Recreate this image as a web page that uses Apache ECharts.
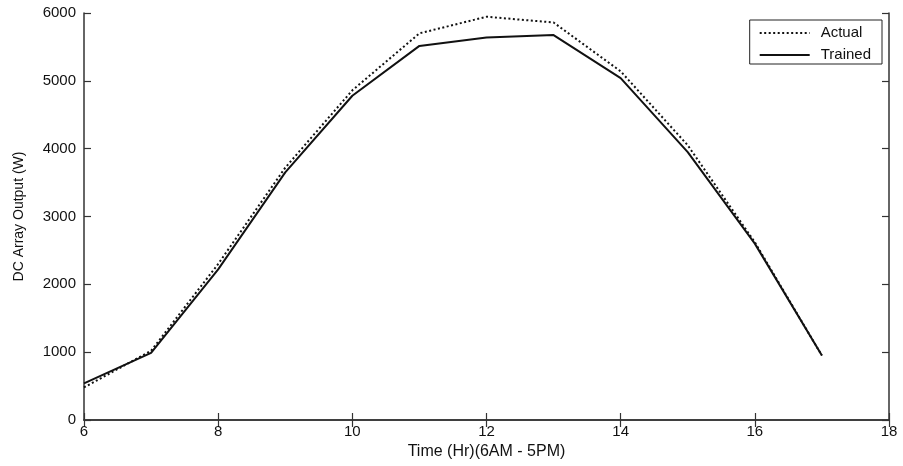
<!DOCTYPE html>
<html><head><meta charset="utf-8">
<script src="https://cdn.jsdelivr.net/npm/echarts@6/dist/echarts.min.js"></script>
<style>html,body{margin:0;padding:0;background:#fff}#c{width:903px;height:466px}</style>
</head><body><div id="c"></div>
<script>
const hours = [6, 7, 8, 9, 10, 11, 12, 13, 14, 15, 16, 17];
const actual = [480, 1020, 2300, 3720, 4860, 5700, 5945, 5860, 5140, 4050, 2620, 950];
const trained = [540, 990, 2220, 3650, 4780, 5515, 5640, 5675, 5040, 3950, 2600, 950];
const seriesNames = ['Actual', 'Trained'];

const chart = echarts.init(document.getElementById('c'));
const font = 'Liberation Sans, Arial, sans-serif';
const axisLine = {show: true, lineStyle: {color: '#333', width: 1.5}};
const tick = {inside: true, length: 7, lineStyle: {color: '#333', width: 1.2}};
chart.setOption({
  animation: false,
  backgroundColor: '#fff',
  grid: {left: 84, right: 14, top: 13, bottom: 46, containLabel: false},
  legend: {
    right: 21, top: 20, orient: 'vertical', itemGap: 4,
    backgroundColor: '#fff', borderColor: '#222', borderWidth: 1, borderRadius: 0,
    padding: [4, 11, 0, 9], itemWidth: 50, itemHeight: 14,
    itemStyle: {opacity: 0},
    textStyle: {fontFamily: font, fontSize: 15, color: '#111', lineHeight: 18, padding: [0, 0, 0, 6]},
    data: seriesNames
  },
  xAxis: [{
    type: 'value', min: 6, max: 18, interval: 2,
    name: 'Time (Hr)(6AM - 5PM)', nameLocation: 'middle', nameGap: 24,
    nameTextStyle: {fontFamily: font, fontSize: 16, color: '#111'},
    axisLine: axisLine, axisTick: tick,
    axisLabel: {fontFamily: font, fontSize: 15, color: '#111', margin: 4},
    splitLine: {show: false}
  }, {
    type: 'value', min: 6, max: 18, interval: 2, position: 'top',
    axisLine: axisLine, axisTick: tick,
    axisLabel: {show: false}, splitLine: {show: false}
  }],
  yAxis: [{
    type: 'value', min: 0, max: 6000, interval: 1000,
    name: 'DC Array Output (W)', nameLocation: 'middle', nameGap: 58,
    nameTextStyle: {fontFamily: font, fontSize: 14, color: '#111'},
    axisLine: axisLine, axisTick: tick,
    axisLabel: {fontFamily: font, fontSize: 15, color: '#111', margin: 8, formatter: v => String(v)},
    splitLine: {show: false}
  }, {
    type: 'value', min: 0, max: 6000, interval: 1000, position: 'right',
    axisLine: axisLine, axisTick: tick,
    axisLabel: {show: false}, splitLine: {show: false}
  }],
  series: [{
    name: seriesNames[0], type: 'line', showSymbol: false, symbol: 'none',
    data: hours.map((h, i) => [h, actual[i]]),
    lineStyle: {color: '#111', width: 2, type: [2, 2.5]},
    itemStyle: {color: '#111'}
  }, {
    name: seriesNames[1], type: 'line', showSymbol: false, symbol: 'none',
    data: hours.map((h, i) => [h, trained[i]]),
    lineStyle: {color: '#111', width: 2},
    itemStyle: {color: '#111'}
  }]
});
</script></body></html>
